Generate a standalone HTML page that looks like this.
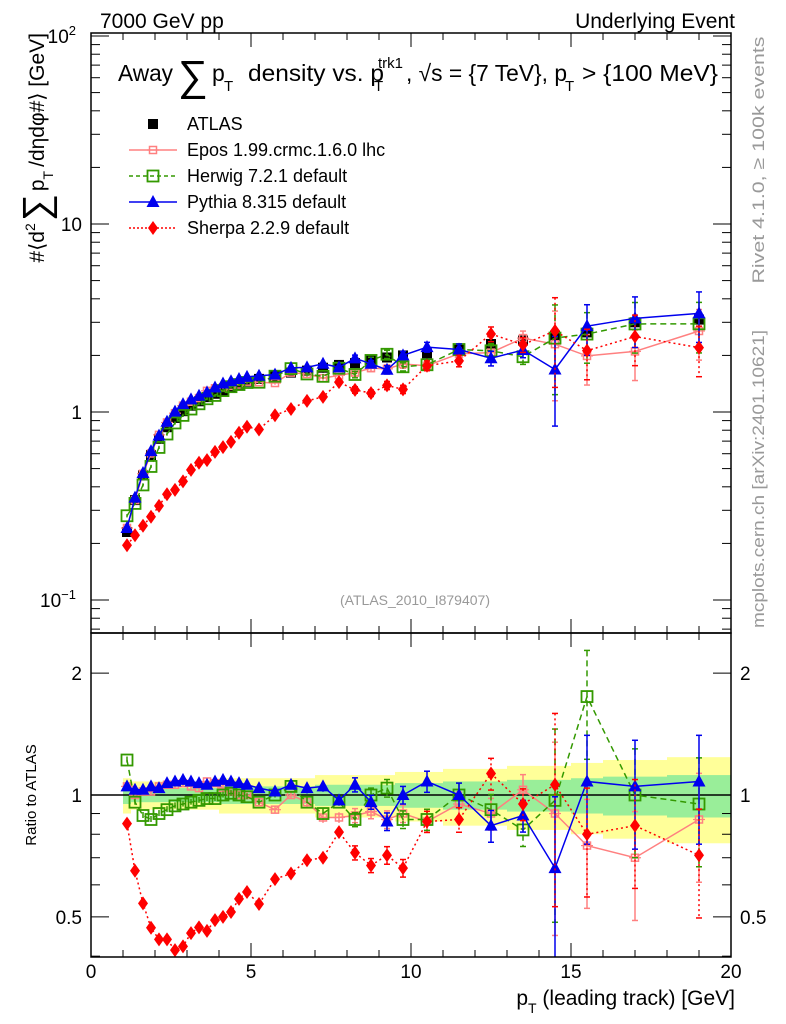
<!DOCTYPE html>
<html><head><meta charset="utf-8"><style>
body{margin:0;background:#fff;}
svg{display:block;font-family:"Liberation Sans",sans-serif;}
</style></head><body>
<svg id="c" width="786" height="1024" viewBox="0 0 786 1024" xmlns="http://www.w3.org/2000/svg">
<g id="bands"></g><g id="series"></g><g id="axes"></g>
<text x="100" y="28" font-size="21">7000 GeV pp</text>
<text x="735" y="28" font-size="21" text-anchor="end">Underlying Event</text>
<g font-size="23">
<text x="118" y="81" textLength="55" lengthAdjust="spacingAndGlyphs">Away</text>
<text x="178" y="90" font-size="42">∑</text>
<text x="212" y="81">p</text><text x="224" y="91" font-size="15">T</text>
<text x="248" y="81" textLength="136" lengthAdjust="spacingAndGlyphs">density vs. p</text>
<text x="378" y="68" font-size="15">trk1</text><text x="374" y="91" font-size="15">T</text>
<text x="406" y="81" textLength="161" lengthAdjust="spacingAndGlyphs">, √s = {7 TeV}, p</text>
<text x="565" y="91" font-size="15">T</text>
<text x="582" y="81" textLength="136" lengthAdjust="spacingAndGlyphs">&gt; {100 MeV}</text>
</g>
<g id="legend" font-size="18"></g>
<text transform="translate(764,160) rotate(-90)" font-size="17" fill="#999" text-anchor="middle" textLength="247" lengthAdjust="spacingAndGlyphs">Rivet 4.1.0, ≥ 100k events</text>
<text transform="translate(764,479) rotate(-90)" font-size="17" fill="#999" text-anchor="middle" textLength="298" lengthAdjust="spacingAndGlyphs">mcplots.cern.ch [arXiv:2401.10621]</text>
<text x="415" y="605" font-size="14" fill="#999" text-anchor="middle">(ATLAS_2010_I879407)</text>
<text transform="translate(44,33) rotate(-90)" font-size="21" text-anchor="end">#⟨d<tspan font-size="14" dy="-9">2</tspan><tspan font-size="38" dy="14" dx="2">∑</tspan><tspan dy="-5" dx="3">p</tspan><tspan font-size="14" dy="9">T</tspan><tspan dy="-9" dx="4">/dηdφ#⟩ [GeV]</tspan></text>
<text transform="translate(36,795) rotate(-90)" font-size="15" text-anchor="middle">Ratio to ATLAS</text>
<text x="735" y="1005" font-size="21" text-anchor="end">p<tspan font-size="14" dy="8">T</tspan><tspan dy="-8"> (leading track) [GeV]</tspan></text>
</svg>
<script>
const xs=[1.125,1.375,1.625,1.875,2.125,2.375,2.625,2.875,3.125,3.375,3.625,3.875,4.125,4.375,4.625,4.875,5.25,5.75,6.25,6.75,7.25,7.75,8.25,8.75,9.25,9.75,10.5,11.5,12.5,13.5,14.5,15.5,17,19];
const xw=[0.125,0.125,0.125,0.125,0.125,0.125,0.125,0.125,0.125,0.125,0.125,0.125,0.125,0.125,0.125,0.125,0.25,0.25,0.25,0.25,0.25,0.25,0.25,0.25,0.25,0.25,0.5,0.5,0.5,0.5,0.5,0.5,1,1];
const atlas=[0.23,0.34,0.46,0.59,0.72,0.83,0.93,1.01,1.08,1.14,1.2,1.25,1.3,1.35,1.4,1.45,1.5,1.55,1.62,1.66,1.72,1.78,1.82,1.88,1.95,2.0,2.05,2.15,2.3,2.4,2.55,2.65,3.0,3.1];
const atlasErr=[0.05,0.04,0.04,0.04,0.04,0.04,0.04,0.04,0.04,0.04,0.04,0.04,0.05,0.05,0.05,0.05,0.05,0.05,0.05,0.05,0.06,0.06,0.06,0.06,0.06,0.07,0.07,0.08,0.08,0.09,0.09,0.1,0.11,0.12];
const eposR=[1.05,1.0,1.02,1.02,1.05,1.06,1.06,1.07,1.05,1.04,1.08,1.07,1.04,1.02,1.0,1.0,0.96,0.92,1.0,0.96,0.88,0.88,0.89,0.91,0.87,0.9,0.86,0.95,0.9,1.03,0.9,0.75,0.7,0.87];
const herwigR=[1.22,0.96,0.89,0.87,0.9,0.92,0.94,0.95,0.96,0.97,0.98,0.98,1.0,1.01,1.0,0.99,0.96,1.0,1.05,0.96,0.9,0.96,0.87,1.0,1.04,0.87,0.87,1.0,0.92,0.82,0.97,1.75,1.0,0.95];
const herwigMainR=[1.22,0.96,0.89,0.87,0.9,0.92,0.94,0.95,0.96,0.97,0.98,0.98,1.0,1.01,1.0,0.99,0.96,1.0,1.05,0.96,0.9,0.96,0.87,1.0,1.04,0.87,0.87,1.0,0.92,0.82,0.97,0.98,0.98,0.95];
const pythiaR=[1.05,1.03,1.03,1.05,1.04,1.07,1.08,1.09,1.08,1.07,1.06,1.08,1.09,1.08,1.07,1.06,1.04,1.02,1.06,1.04,1.05,0.97,1.06,0.96,0.86,1.0,1.08,1.0,0.84,0.89,0.66,1.08,1.05,1.08];
const sherpaR=[0.85,0.65,0.54,0.47,0.44,0.44,0.414,0.423,0.456,0.471,0.462,0.491,0.5,0.514,0.554,0.576,0.538,0.62,0.64,0.69,0.70,0.81,0.72,0.67,0.71,0.66,0.86,0.87,1.13,0.95,1.06,0.80,0.84,0.71];
const mcErr=[0.02,0.02,0.02,0.02,0.02,0.02,0.02,0.02,0.02,0.02,0.02,0.02,0.02,0.02,0.02,0.02,0.02,0.02,0.02,0.03,0.03,0.03,0.04,0.04,0.05,0.05,0.06,0.07,0.09,0.09,0.5,0.3,0.3,0.3];
const xTicks=[0,5,10,15,20];
const NS="http://www.w3.org/2000/svg";
const X0=91,X1=731,T=33,MB=633,RB=957;
const px=x=>X0+(X1-X0)*x/20;
const py=v=>412-188*Math.log10(v);
const ry=r=>795-405*Math.log10(r);
function mk(tag,at,par){const e=document.createElementNS(NS,tag);for(const k in at)e.setAttribute(k,at[k]);par.appendChild(e);return e;}
const S=document.getElementById('series'),A=document.getElementById('axes'),B=document.getElementById('bands');
const defs=mk('defs',{},document.getElementById('c'));
const c1=mk('clipPath',{id:'cm'},defs);mk('rect',{x:X0,y:T,width:X1-X0,height:MB-T},c1);
const c2=mk('clipPath',{id:'cr'},defs);mk('rect',{x:X0,y:MB,width:X1-X0,height:RB-MB},c2);
xs.forEach((x,i)=>{
 const e=atlasErr[i];
 const b1=mk('rect',{x:px(x-xw[i]),y:ry(1+2*e),width:px(x+xw[i])-px(x-xw[i]),height:ry(1-2*e)-ry(1+2*e),fill:'#ffff99'},B);
 
 
 const b2=mk('rect',{x:px(x-xw[i]),y:ry(1+e),width:px(x+xw[i])-px(x-xw[i]),height:ry(1-e)-ry(1+e),fill:'#99ee99'},B);
 
 
});
const l1=mk('line',{x1:X0,x2:X1,y1:ry(1),y2:ry(1),stroke:'#000','stroke-width':1.5},B);


function marker(g,type,x,y,col){
 if(type==='sq')mk('rect',{x:x-5,y:y-5,width:10,height:10,fill:'#000'},g);
 else if(type==='osq')mk('rect',{x:x-5.5,y:y-5.5,width:11,height:11,fill:'none',stroke:col,'stroke-width':1.8},g);
 else if(type==='cross'){mk('rect',{x:x-3.5,y:y-3.5,width:7,height:7,fill:'none',stroke:col,'stroke-width':1.5},g);mk('line',{x1:x-6,x2:x+6,y1:y,y2:y,stroke:col,'stroke-width':1.2},g);}
 else if(type==='tri')mk('polygon',{points:`${x},${y-7} ${x-6.5},${y+5} ${x+6.5},${y+5}`,fill:col},g);
 else if(type==='dia')mk('polygon',{points:`${x},${y-7} ${x-5},${y} ${x},${y+7} ${x+5},${y}`,fill:col},g);
}
const series=[
 {name:'epos',r:eposR,m:eposR,col:'#ff8080',dash:'',type:'cross'},
 {name:'herwig',r:herwigR,m:herwigMainR,col:'#339900',dash:'6,4',type:'osq'},
 {name:'pythia',r:pythiaR,m:pythiaR,col:'#0000ee',dash:'',type:'tri'},
 {name:'sherpa',r:sherpaR,m:sherpaR,col:'#ff0000',dash:'2,3',type:'dia'}];
function drawPanel(clip,fy,isRatio){
 const G=mk('g',{'clip-path':`url(#${clip})`},S);
 if(!isRatio){
  xs.forEach((x,i)=>{const g=mk('g',{},G);
   
   
   mk('line',{x1:px(x),x2:px(x),y1:fy(atlas[i]*(1+atlasErr[i])),y2:fy(atlas[i]*(1-atlasErr[i])),stroke:'#000'},g);
   marker(g,'sq',px(x),fy(atlas[i]),'#000');});
 }
 series.forEach(s=>{
  const vals=isRatio?s.r:s.m.map((r,i)=>r*atlas[i]);
  const pl=mk('polyline',{points:xs.map((x,i)=>px(x)+','+fy(vals[i])).join(' '),fill:'none',stroke:s.col,'stroke-width':1.5,'stroke-dasharray':s.dash},G);
  
  
  xs.forEach((x,i)=>{const g=mk('g',{},G);
   
   
   const e=mcErr[i];
   const y1=fy(vals[i]*(1+e)),y2=fy(Math.max(vals[i]*(1-e),1e-3));
   mk('line',{x1:px(x),x2:px(x),y1:y1,y2:y2,stroke:s.col,'stroke-width':1.5,'stroke-dasharray':s.dash},g);
   if(e>0.03){mk('line',{x1:px(x)-3,x2:px(x)+3,y1:y1,y2:y1,stroke:s.col,'stroke-width':1.5},g);mk('line',{x1:px(x)-3,x2:px(x)+3,y1:y2,y2:y2,stroke:s.col,'stroke-width':1.5},g);}
   marker(g,s.type,px(x),fy(vals[i]),s.col);});
 });
}
drawPanel('cm',py,false);
drawPanel('cr',ry,true);
[[T,MB],[MB,RB]].forEach(([a,b],k)=>{const r=mk('rect',{x:X0,y:a,width:X1-X0,height:b-a,fill:'none',stroke:'#000','stroke-width':1.5},A);
 
 });
for(let v=0;v<=20;v++){const maj=v%5===0,L=maj?14:7;
 [[T,1],[MB,-1],[MB,1],[RB,-1]].forEach(([y,d])=>mk('line',{x1:px(v),x2:px(v),y1:y,y2:y+d*L,stroke:'#000'},A));}
xTicks.forEach(v=>{const t=mk('text',{x:px(v),y:978,'font-size':19,'text-anchor':'middle'},A);t.textContent=v;
 
 });
for(let d=-2;d<=2;d++)for(let m=1;m<10;m++){const v=m*Math.pow(10,d);const y=py(v);if(y<T||y>MB)continue;const L=m===1?18:9;
 mk('line',{x1:X0,x2:X0+L,y1:y,y2:y,stroke:'#000'},A);mk('line',{x1:X1,x2:X1-L,y1:y,y2:y,stroke:'#000'},A);}
[[100,'10','2'],[10,'10',''],[1,'1',''],[0.1,'10','−1']].forEach(([v,b,e])=>{const t=mk('text',{x:e?76:82,y:py(v)+7,'font-size':19,'text-anchor':'end'},A);t.textContent=b;
 
 
 if(e){const s=mk('tspan',{'font-size':13,dy:-8},t);s.textContent=e;}});
[0.4,0.5,0.6,0.7,0.8,0.9,1,2].forEach(v=>{const y=ry(v);if(y<MB||y>RB)return;const L=(v===1||v===2||v===0.5)?18:9;
 mk('line',{x1:X0,x2:X0+L,y1:y,y2:y,stroke:'#000'},A);mk('line',{x1:X1,x2:X1-L,y1:y,y2:y,stroke:'#000'},A);});
[[2,'2'],[1,'1'],[0.5,'0.5']].forEach(([v,s])=>{[[82,'end'],[740,'start']].forEach(([x,an])=>{const t=mk('text',{x:x,y:ry(v)+7,'font-size':19,'text-anchor':an},A);t.textContent=s;
 
 });});
const Lg=document.getElementById('legend');
const items=[['ATLAS','sq','#000',''],['Epos 1.99.crmc.1.6.0 lhc','cross','#ff8080',''],['Herwig 7.2.1 default','osq','#339900','4,3'],['Pythia 8.315 default','tri','#0000ee',''],['Sherpa 2.2.9 default','dia','#ff0000','2,2']];
items.forEach((it,i)=>{const y=124+26*i;const g=mk('g',{},Lg);
 
 
 if(i>0)mk('line',{x1:129,x2:177,y1:y,y2:y,stroke:it[2],'stroke-width':1.5,'stroke-dasharray':it[3]},g);
 marker(g,it[1],153,y,it[2]);
 const t=mk('text',{x:187,y:y+6},g);t.textContent=it[0];});
</script>
</body></html>
